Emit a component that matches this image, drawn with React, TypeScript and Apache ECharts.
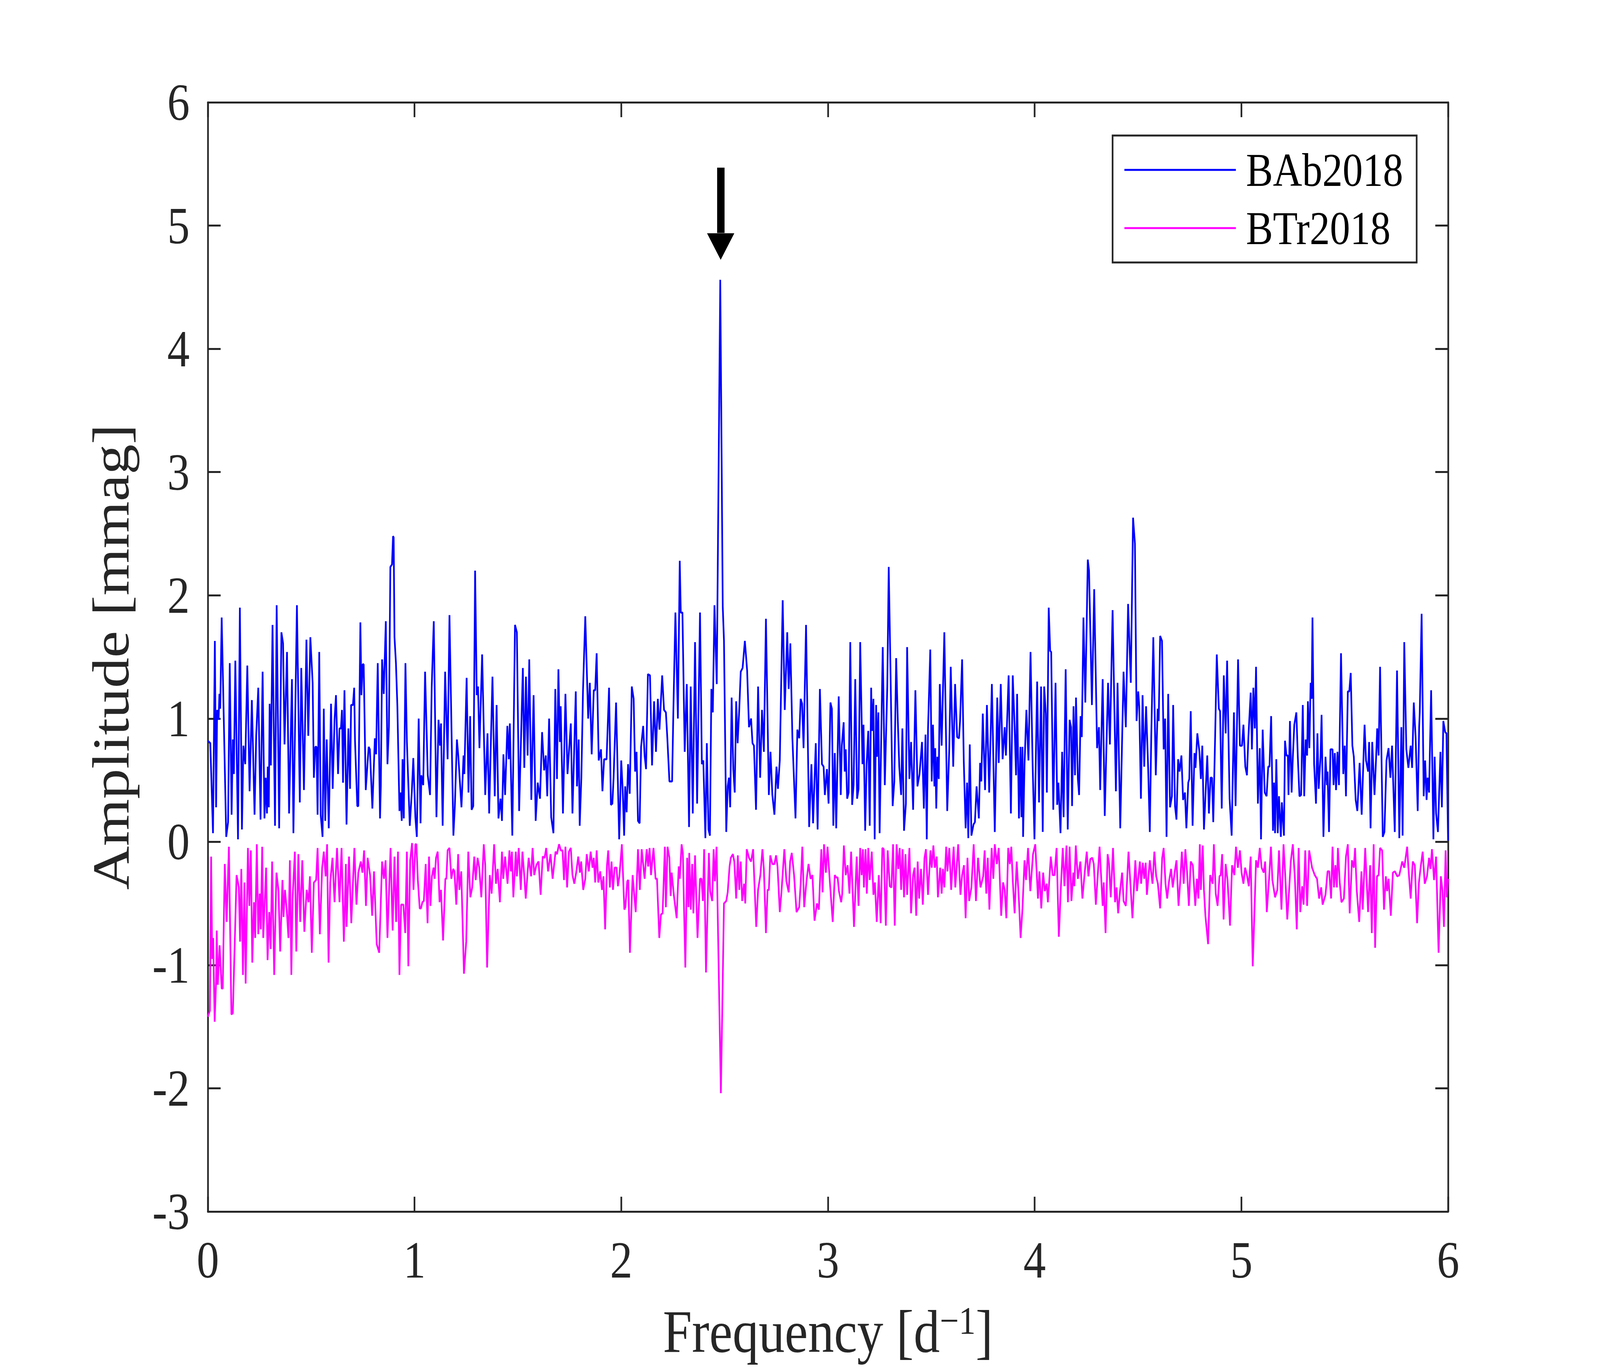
import React, { useEffect, useRef } from "react";
import * as echarts from "echarts";

const FONT = '"Liberation Serif", "Times New Roman", serif';
const AXIS_COLOR = "#262626";
const CHART_W = 4750;
const CHART_H = 3500;

const seriesNames = ["BAb2018", "BTr2018"];
const seriesColors = ["#0000FF", "#FF00FF"];
const xTicks = { min: 0, max: 6, interval: 1 };
const yTicks = { min: -3, max: 6, interval: 1 };

// arrow marking the main peak (frequency, top of shaft, base of head, tip)
const arrowFreq = 2.481;
const arrowTop = 5.47;
const arrowHeadBase = 4.94;
const arrowTip = 4.72;

// BAb2018 amplitude spectrum: [frequency d^-1, amplitude mmag]
const bAb2018: [number, number][] = [
[0,0.82],[0.012,0.80],[0.025,0.07],[0.034,1.63],[0.040,0.28],[0.045,1.07],[0.052,0.99],[0.056,1.20],[0.060,1.08],[0.067,1.82],[0.089,0.04],[0.098,0.16],[0.106,1.45],[0.115,0.22],[0.121,0.83],[0.126,0.55],[0.133,1.47],[0.146,0.02],[0.155,1.90],[0.165,0.10],[0.172,0.78],[0.181,0.63],[0.191,1.43],[0.202,0.41],[0.213,1.15],[0.226,0.22],[0.234,0.86],[0.244,1.25],[0.255,0.18],[0.265,1.38],[0.274,0.19],[0.280,0.52],[0.286,0.23],[0.290,0.61],[0.295,0.28],[0.299,1.12],[0.305,0.62],[0.313,1.76],[0.325,0.13],[0.333,1.92],[0.345,0.11],[0.356,1.70],[0.364,1.61],[0.371,0.79],[0.383,1.54],[0.393,0.23],[0.407,1.32],[0.414,0.07],[0.431,1.92],[0.445,0.32],[0.452,1.41],[0.465,0.42],[0.477,1.64],[0.486,0.86],[0.496,1.66],[0.507,1.29],[0.513,0.52],[0.520,0.77],[0.526,0.77],[0.531,0.22],[0.539,1.54],[0.546,0.22],[0.555,0.04],[0.561,1.08],[0.568,0.17],[0.575,0.83],[0.585,0.11],[0.596,1.12],[0.604,0.43],[0.613,0.99],[0.620,1.19],[0.630,0.55],[0.637,0.92],[0.644,0.92],[0.649,1.07],[0.654,0.48],[0.661,1.23],[0.671,0.14],[0.680,0.92],[0.688,0.43],[0.693,1.11],[0.702,1.11],[0.708,1.25],[0.712,0.82],[0.723,0.29],[0.728,0.29],[0.738,1.78],[0.743,1.19],[0.749,1.44],[0.754,1.44],[0.764,0.42],[0.778,0.77],[0.784,0.75],[0.796,0.27],[0.808,0.84],[0.814,0.71],[0.822,1.45],[0.833,0.19],[0.837,0.46],[0.843,1.48],[0.851,1.20],[0.861,1.79],[0.869,0.63],[0.876,0.93],[0.883,2.23],[0.891,2.25],[0.896,2.48],[0.899,2.47],[0.903,1.66],[0.910,1.45],[0.917,1.10],[0.927,0.25],[0.932,0.40],[0.938,0.17],[0.942,0.67],[0.948,0.19],[0.956,1.45],[0.963,0.81],[0.977,0.13],[0.987,0.41],[0.994,0.68],
[1.004,0.20],[1.011,0.04],[1.020,1.00],[1.029,0.15],[1.033,0.54],[1.042,0.46],[1.051,1.38],[1.064,0.54],[1.075,0.38],[1.083,1.25],[1.093,1.79],[1.106,0.20],[1.116,0.99],[1.123,0.78],[1.128,0.96],[1.136,0.13],[1.148,1.38],[1.160,0.67],[1.169,1.84],[1.188,0.05],[1.195,0.29],[1.205,0.83],[1.212,0.69],[1.227,0.28],[1.237,0.70],[1.241,0.55],[1.252,1.33],[1.261,0.40],[1.269,1.02],[1.276,0.26],[1.284,0.29],[1.293,2.20],[1.301,1.19],[1.307,1.26],[1.314,0.76],[1.327,1.52],[1.342,0.38],[1.353,0.88],[1.361,0.23],[1.377,1.34],[1.388,0.37],[1.397,1.11],[1.406,0.19],[1.416,0.35],[1.423,0.17],[1.430,0.71],[1.438,0.38],[1.449,0.94],[1.456,0.67],[1.461,0.96],[1.473,0.05],[1.486,1.76],[1.495,1.70],[1.506,0.25],[1.524,1.41],[1.531,0.60],[1.539,1.34],[1.547,0.70],[1.555,1.48],[1.565,0.34],[1.576,1.19],[1.586,0.17],[1.596,0.48],[1.607,0.35],[1.617,0.89],[1.627,0.58],[1.635,0.70],[1.642,0.37],[1.651,1.00],[1.661,0.20],[1.672,0.07],[1.681,1.24],[1.689,0.51],[1.696,1.40],[1.703,0.81],[1.707,1.10],[1.718,0.23],[1.730,1.20],[1.740,0.55],[1.756,0.96],[1.764,0.23],[1.780,1.22],[1.786,0.45],[1.794,0.83],[1.799,0.13],[1.807,0.52],[1.815,1.23],[1.826,1.83],[1.840,1.00],[1.848,1.29],[1.857,0.71],[1.867,1.23],[1.874,1.23],[1.881,1.53],[1.891,0.66],[1.902,0.75],[1.909,0.41],[1.917,0.67],[1.929,0.67],[1.941,1.25],[1.950,0.30],[1.957,0.31],[1.963,0.52],[1.975,1.13],[1.990,0.02],
[2.000,0.66],[2.007,0.42],[2.014,0.05],[2.019,0.45],[2.026,0.24],[2.033,0.63],[2.041,0.39],[2.051,1.26],[2.060,1.16],[2.067,0.57],[2.074,0.73],[2.081,0.17],[2.089,0.15],[2.096,0.77],[2.106,0.94],[2.113,0.70],[2.120,0.59],[2.129,1.36],[2.139,1.35],[2.149,0.62],[2.159,1.14],[2.168,0.73],[2.177,1.16],[2.185,0.91],[2.198,1.35],[2.207,1.07],[2.216,1.05],[2.223,0.84],[2.233,0.49],[2.246,0.49],[2.252,1.05],[2.262,1.86],[2.274,1.00],[2.283,2.28],[2.288,1.86],[2.296,1.86],[2.307,0.73],[2.317,1.28],[2.328,0.12],[2.336,1.26],[2.346,0.23],[2.357,1.62],[2.367,0.31],[2.381,1.86],[2.390,0.63],[2.397,0.66],[2.407,0.03],[2.414,0.80],[2.422,0.10],[2.429,0.05],[2.436,1.24],[2.443,1.05],[2.451,1.92],[2.462,1.28],[2.479,4.56],[2.491,1.91],[2.497,1.63],[2.508,0.08],[2.515,0.45],[2.521,0.52],[2.527,0.28],[2.534,1.17],[2.542,0.59],[2.549,0.40],[2.556,1.14],[2.563,0.80],[2.571,1.08],[2.578,1.38],[2.587,1.41],[2.598,1.63],[2.609,1.39],[2.618,0.93],[2.628,1.00],[2.635,0.80],[2.642,0.78],[2.652,0.26],[2.662,1.26],[2.672,0.52],[2.681,1.07],[2.690,0.73],[2.700,1.81],[2.714,0.38],[2.722,0.73],[2.731,0.38],[2.741,0.22],[2.751,0.61],[2.758,0.43],[2.767,0.66],[2.781,1.96],[2.791,1.07],[2.803,1.70],[2.810,1.24],[2.818,1.61],[2.828,0.84],[2.843,0.19],[2.852,0.91],[2.861,0.84],[2.868,1.16],[2.875,1.12],[2.882,0.76],[2.894,1.76],[2.909,0.12],[2.920,0.63],[2.928,0.15],[2.941,0.80],[2.950,0.10],[2.961,1.24],[2.971,0.63],[2.979,0.61],[2.985,0.38],[2.995,0.59],[3.003,0.31],
[3.012,1.13],[3.019,1.08],[3.026,0.13],[3.033,0.72],[3.040,0.11],[3.052,1.18],[3.062,0.38],[3.067,0.78],[3.076,0.97],[3.081,0.57],[3.086,0.75],[3.093,0.35],[3.100,0.40],[3.108,1.62],[3.117,0.30],[3.124,0.46],[3.132,1.32],[3.141,0.35],[3.148,0.43],[3.156,1.62],[3.167,0.63],[3.172,0.95],[3.180,0.09],[3.187,0.63],[3.195,0.90],[3.202,0.13],[3.209,1.25],[3.213,0.90],[3.220,1.16],[3.226,0.02],[3.233,1.11],[3.237,0.69],[3.244,1.05],[3.250,0.07],[3.265,1.58],[3.275,0.46],[3.287,1.26],[3.294,2.23],[3.303,1.34],[3.313,0.29],[3.321,0.49],[3.330,1.49],[3.338,0.98],[3.345,0.61],[3.354,0.38],[3.360,0.92],[3.368,0.09],[3.377,0.31],[3.383,1.58],[3.394,0.51],[3.402,0.81],[3.412,0.26],[3.423,1.23],[3.433,0.45],[3.443,0.55],[3.455,0.81],[3.464,0.27],[3.472,0.87],[3.478,0.02],[3.484,0.91],[3.495,1.56],[3.502,0.49],[3.508,0.95],[3.515,0.45],[3.519,0.76],[3.524,0.27],[3.529,0.69],[3.536,0.51],[3.541,1.28],[3.550,0.78],[3.563,1.70],[3.577,0.25],[3.587,0.76],[3.594,1.42],[3.606,0.61],[3.615,1.28],[3.625,0.85],[3.634,0.84],[3.639,0.98],[3.649,1.48],[3.657,0.66],[3.666,0.11],[3.673,0.48],[3.679,0.03],[3.686,0.79],[3.694,0.05],[3.704,0.14],[3.711,0.16],[3.719,0.45],[3.730,0.19],[3.736,0.64],[3.742,0.49],[3.749,1.04],[3.760,0.42],[3.769,1.11],[3.780,0.40],[3.793,1.28],[3.807,0.08],[3.819,1.17],[3.826,0.64],[3.836,1.28],[3.845,0.67],[3.855,0.93],[3.861,0.70],[3.874,1.35],[3.885,0.23],[3.894,1.35],[3.903,0.93],[3.910,0.54],[3.915,1.20],[3.924,0.19],[3.931,0.77],[3.936,0.20],[3.941,0.77],[3.944,0.04],[3.951,0.63],[3.960,1.07],[3.970,0.66],[3.980,1.54],[3.990,0.64],[3.999,0.02],[4.012,1.30],[4.021,0.32],[4.031,1.26],[4.039,0.08],[4.046,1.26],[4.054,1.04],[4.059,0.40],[4.068,1.90],[4.075,1.55],
[4.080,1.54],[4.090,0.26],[4.101,1.29],[4.109,0.30],[4.115,0.48],[4.125,0.07],[4.133,0.73],[4.140,0.20],[4.150,1.40],[4.160,0.10],[4.169,0.99],[4.176,0.93],[4.181,0.29],[4.188,1.10],[4.195,0.54],[4.200,1.17],[4.209,0.51],[4.215,0.38],[4.222,1.02],[4.228,0.85],[4.236,1.82],[4.245,1.13],[4.257,2.29],[4.263,2.20],[4.277,1.11],[4.288,2.05],[4.302,0.76],[4.311,0.93],[4.317,0.42],[4.329,1.32],[4.339,0.21],[4.346,0.69],[4.355,1.29],[4.364,0.79],[4.377,1.88],[4.393,0.41],[4.401,1.29],[4.414,0.11],[4.430,1.38],[4.441,0.93],[4.452,1.93],[4.465,1.29],[4.476,2.63],[4.485,2.42],[4.493,0.98],[4.501,1.22],[4.506,1.10],[4.514,0.35],[4.522,1.19],[4.530,0.61],[4.539,1.10],[4.549,0.60],[4.557,0.08],[4.564,0.85],[4.574,1.66],[4.586,0.54],[4.595,1.08],[4.600,0.98],[4.607,1.67],[4.616,1.63],[4.624,0.75],[4.631,1.00],[4.638,0.04],[4.646,1.20],[4.655,0.28],[4.664,0.37],[4.670,1.11],[4.679,0.29],[4.686,0.18],[4.694,0.67],[4.701,0.57],[4.710,0.70],[4.718,0.34],[4.727,0.40],[4.734,0.11],[4.743,0.48],[4.748,0.51],[4.755,1.06],[4.764,0.13],[4.773,0.72],[4.778,0.60],[4.787,0.88],[4.797,0.73],[4.804,0.51],[4.811,0.78],[4.819,0.10],[4.835,0.70],[4.843,0.23],[4.851,0.52],[4.858,0.52],[4.864,0.16],[4.873,0.85],[4.881,1.52],[4.891,1.08],[4.897,1.06],[4.905,0.27],[4.915,1.35],[4.924,0.88],[4.931,1.47],[4.943,0.35],[4.953,0.05],[4.964,1.05],[4.972,0.29],[4.984,1.48],[4.993,0.78],[5.003,0.78],[5.010,0.95],[5.019,0.61],[5.027,0.54],[5.034,0.85],[5.045,1.21],[5.051,0.75],[5.058,1.25],[5.065,0.92],[5.071,1.42],[5.080,0.31],
[5.089,0.76],[5.095,0.02],[5.103,0.91],[5.113,0.40],[5.122,0.37],[5.130,0.61],[5.136,0.61],[5.144,1.02],[5.153,0.09],[5.158,0.48],[5.163,0.07],[5.169,0.67],[5.176,0.07],[5.182,0.37],[5.191,0.04],[5.196,0.32],[5.206,0.05],[5.211,0.82],[5.218,0.70],[5.225,0.70],[5.228,0.38],[5.235,0.98],[5.243,0.40],[5.249,0.69],[5.256,0.95],[5.266,1.05],[5.273,0.69],[5.281,0.37],[5.289,0.38],[5.297,1.11],[5.304,0.37],[5.311,0.83],[5.318,0.70],[5.322,1.14],[5.329,0.76],[5.335,1.29],[5.340,1.16],[5.344,1.82],[5.352,0.63],[5.361,0.31],[5.368,0.88],[5.374,0.43],[5.383,0.69],[5.388,1.03],[5.397,0.04],[5.407,0.69],[5.414,0.46],[5.417,0.57],[5.424,0.08],[5.431,0.75],[5.441,0.75],[5.446,0.46],[5.452,0.72],[5.458,0.42],[5.465,0.73],[5.472,0.46],[5.482,1.53],[5.493,0.55],[5.500,0.78],[5.506,0.37],[5.515,1.22],[5.522,1.22],[5.529,1.37],[5.537,0.78],[5.544,0.69],[5.553,0.34],[5.561,0.25],[5.572,0.64],[5.582,0.22],[5.596,0.95],[5.603,0.66],[5.613,0.57],[5.618,0.81],[5.625,0.11],[5.633,0.81],[5.644,0.38],[5.652,0.69],[5.657,0.92],[5.664,0.70],[5.671,1.42],[5.684,0.04],[5.692,0.08],[5.702,0.66],[5.712,0.76],[5.721,0.52],[5.729,0.78],[5.742,0.08],[5.753,1.39],[5.764,0.03],[5.774,0.93],[5.780,0.05],[5.788,1.62],[5.798,0.75],[5.808,0.60],[5.819,0.78],[5.826,0.60],[5.834,1.13],[5.843,0.85],[5.853,0.25],[5.860,0.93],[5.863,1.05],[5.872,1.85],[5.882,0.37],[5.889,0.66],[5.896,0.34],[5.901,0.52],[5.908,0.40],[5.918,1.23],[5.929,0.02],[5.935,0.69],[5.942,0.23],[5.951,0.08],[5.963,0.73],[5.970,0.28],[5.977,0.98],[5.986,0.89],[5.992,0.88],[6.000,0.01]
];

// BTr2018 spectrum (plotted as negative amplitude): [frequency d^-1, amplitude mmag]
const bTr2018: [number, number][] = [
[0,-1.42],[0.010,-1.37],[0.016,-0.12],[0.021,-0.95],[0.026,-0.78],[0.033,-1.46],[0.040,-1.13],[0.043,-0.72],[0.048,-1.16],[0.057,-0.84],[0.067,-1.19],[0.072,-1.19],[0.082,-0.18],[0.091,-0.65],[0.102,-0.04],[0.114,-1.40],[0.121,-1.39],[0.139,-0.27],[0.150,-0.37],[0.156,-0.81],[0.162,-0.22],[0.170,-1.08],[0.177,-0.33],[0.183,-1.15],[0.194,-0.05],[0.201,-0.52],[0.208,-0.07],[0.215,-0.98],[0.223,-0.49],[0.229,-0.78],[0.237,-0.02],[0.244,-0.75],[0.251,-0.42],[0.256,-0.71],[0.263,-0.04],[0.268,-0.78],[0.282,-0.21],[0.289,-0.96],[0.297,-0.57],[0.304,-0.87],[0.311,-0.16],[0.321,-1.08],[0.332,-0.25],[0.342,-0.40],[0.350,-0.89],[0.361,-0.31],[0.366,-0.61],[0.373,-0.39],[0.382,-0.56],[0.390,-0.78],[0.397,-0.15],[0.404,-1.08],[0.410,-0.46],[0.421,-0.08],[0.428,-0.89],[0.438,-0.10],[0.447,-0.65],[0.457,-0.15],[0.467,-0.73],[0.478,-0.39],[0.487,-0.49],[0.494,-0.28],[0.503,-0.90],[0.513,-0.33],[0.524,-0.31],[0.531,-0.05],[0.542,-0.75],[0.553,-0.21],[0.561,-0.08],[0.570,-0.28],[0.577,-0.02],[0.584,-0.98],[0.592,-0.33],[0.603,-0.13],[0.613,-0.49],[0.625,-0.05],[0.637,-0.49],[0.647,-0.05],[0.658,-0.81],[0.668,-0.18],[0.671,-0.69],[0.683,-0.12],[0.694,-0.66],[0.709,-0.05],[0.719,-0.51],[0.728,-0.25],[0.740,-0.16],[0.748,-0.25],[0.756,-0.07],[0.765,-0.52],[0.773,-0.13],[0.785,-0.27],[0.795,-0.60],[0.804,-0.24],[0.817,-0.83],[0.829,-0.90],[0.843,-0.16],[0.852,-0.30],[0.860,-0.15],[0.869,-0.78],[0.884,-0.05],[0.894,-0.72],[0.903,-0.12],[0.911,-0.65],[0.920,-0.08],[0.927,-1.08],[0.935,-0.51],[0.946,-0.51],[0.955,-0.74],[0.963,-0.08],[0.970,-1.01],[0.979,-0.15],[0.988,-0.01],[0.995,-0.39],
[1.004,-0.02],[1.009,-0.02],[1.016,-0.31],[1.025,-0.54],[1.031,-0.54],[1.038,-0.49],[1.045,-0.48],[1.054,-0.18],[1.063,-0.66],[1.070,-0.12],[1.077,-0.52],[1.084,-0.28],[1.092,-0.21],[1.097,-0.30],[1.104,-0.13],[1.112,-0.08],[1.121,-0.49],[1.128,-0.39],[1.138,-0.80],[1.149,-0.30],[1.154,-0.30],[1.160,-0.07],[1.169,-0.05],[1.178,-0.30],[1.187,-0.22],[1.193,-0.24],[1.202,-0.51],[1.211,-0.10],[1.217,-0.39],[1.226,-0.24],[1.239,-1.07],[1.250,-0.81],[1.260,-0.08],[1.270,-0.45],[1.279,-0.37],[1.289,-0.12],[1.296,-0.31],[1.305,-0.13],[1.313,-0.21],[1.323,-0.45],[1.335,-0.02],[1.342,-0.19],[1.351,-1.02],[1.364,-0.27],[1.373,-0.42],[1.385,-0.02],[1.394,-0.34],[1.402,-0.22],[1.413,-0.49],[1.423,-0.08],[1.429,-0.30],[1.438,-0.12],[1.450,-0.34],[1.459,-0.07],[1.466,-0.24],[1.471,-0.08],[1.478,-0.45],[1.490,-0.08],[1.495,-0.28],[1.504,-0.05],[1.514,-0.39],[1.522,-0.08],[1.531,-0.28],[1.538,-0.46],[1.552,-0.13],[1.564,-0.28],[1.571,-0.05],[1.579,-0.27],[1.589,-0.19],[1.600,-0.16],[1.610,-0.43],[1.620,-0.12],[1.629,-0.13],[1.637,-0.05],[1.646,-0.24],[1.658,-0.10],[1.668,-0.30],[1.682,-0.08],[1.689,-0.10],[1.699,-0.02],[1.708,-0.07],[1.716,-0.07],[1.723,-0.31],[1.730,-0.04],[1.738,-0.37],[1.747,-0.08],[1.756,-0.05],[1.764,-0.27],[1.773,-0.34],[1.782,-0.25],[1.792,-0.12],[1.800,-0.25],[1.806,-0.16],[1.816,-0.39],[1.826,-0.30],[1.833,-0.10],[1.843,-0.24],[1.852,-0.08],[1.861,-0.21],[1.867,-0.13],[1.874,-0.33],[1.881,-0.07],[1.889,-0.33],[1.898,-0.24],[1.907,-0.39],[1.914,-0.28],[1.922,-0.71],[1.931,-0.19],[1.937,-0.07],[1.945,-0.37],[1.953,-0.16],[1.960,-0.39],[1.968,-0.21],[1.977,-0.21],[1.984,-0.36],[1.991,-0.28],[2.003,-0.02],[2.015,-0.55],
[2.020,-0.53],[2.029,-0.32],[2.034,-0.31],[2.042,-0.90],[2.055,-0.27],[2.062,-0.41],[2.070,-0.57],[2.081,-0.06],[2.090,-0.39],[2.099,-0.06],[2.113,-0.30],[2.123,-0.06],[2.130,-0.20],[2.137,-0.05],[2.144,-0.27],[2.156,-0.05],[2.166,-0.30],[2.173,-0.30],[2.184,-0.78],[2.192,-0.59],[2.200,-0.58],[2.211,-0.04],[2.216,-0.53],[2.224,-0.04],[2.233,-0.13],[2.239,-0.44],[2.244,-0.25],[2.255,-0.44],[2.268,-0.62],[2.278,-0.20],[2.283,-0.30],[2.292,-0.02],[2.298,-0.09],[2.310,-1.02],[2.319,-0.13],[2.325,-0.53],[2.329,-0.09],[2.336,-0.55],[2.343,-0.18],[2.349,-0.58],[2.357,-0.11],[2.369,-0.78],[2.381,-0.30],[2.388,-0.30],[2.395,-0.48],[2.401,-0.06],[2.410,-1.06],[2.424,-0.09],[2.430,-0.40],[2.440,-0.48],[2.447,-0.06],[2.453,-0.32],[2.461,-0.04],[2.482,-2.04],[2.497,-0.50],[2.508,-0.48],[2.515,-0.41],[2.524,-0.20],[2.530,-0.13],[2.540,-0.10],[2.547,-0.16],[2.556,-0.46],[2.564,-0.11],[2.571,-0.39],[2.578,-0.16],[2.585,-0.48],[2.594,-0.34],[2.600,-0.50],[2.607,-0.06],[2.618,-0.13],[2.628,-0.16],[2.638,-0.06],[2.644,-0.32],[2.653,-0.69],[2.662,-0.39],[2.673,-0.27],[2.683,-0.06],[2.690,-0.22],[2.700,-0.74],[2.708,-0.39],[2.714,-0.39],[2.721,-0.11],[2.731,-0.18],[2.741,-0.18],[2.749,-0.11],[2.756,-0.20],[2.767,-0.57],[2.775,-0.41],[2.789,-0.06],[2.799,-0.32],[2.810,-0.41],[2.817,-0.16],[2.825,-0.09],[2.836,-0.27],[2.848,-0.57],[2.861,-0.53],[2.868,-0.34],[2.876,-0.04],[2.885,-0.53],[2.896,-0.32],[2.906,-0.18],[2.916,-0.30],[2.925,-0.27],[2.935,-0.64],[2.947,-0.50],[2.956,-0.55],[2.968,-0.06],[2.974,-0.41],[2.981,-0.02],[2.990,-0.25],[2.998,-0.04],[3.009,-0.32],
[3.023,-0.65],[3.033,-0.27],[3.040,-0.29],[3.047,-0.29],[3.053,-0.40],[3.064,-0.49],[3.069,-0.42],[3.077,-0.03],[3.086,-0.27],[3.095,-0.19],[3.104,-0.42],[3.112,-0.08],[3.126,-0.69],[3.139,-0.12],[3.148,-0.52],[3.156,-0.05],[3.163,-0.27],[3.169,-0.06],[3.174,-0.37],[3.182,-0.06],[3.188,-0.42],[3.195,-0.05],[3.202,-0.31],[3.212,-0.08],[3.220,-0.43],[3.227,-0.33],[3.236,-0.65],[3.246,-0.27],[3.255,-0.66],[3.263,-0.05],[3.270,-0.06],[3.280,-0.68],[3.289,-0.07],[3.299,-0.36],[3.307,-0.37],[3.315,-0.02],[3.323,-0.68],[3.332,-0.02],[3.340,-0.22],[3.347,-0.05],[3.354,-0.39],[3.361,-0.06],[3.368,-0.45],[3.375,-0.10],[3.383,-0.43],[3.394,-0.05],[3.402,-0.58],[3.412,-0.27],[3.419,-0.21],[3.427,-0.60],[3.434,-0.16],[3.441,-0.46],[3.450,-0.22],[3.459,-0.51],[3.467,-0.13],[3.474,-0.06],[3.484,-0.43],[3.496,-0.07],[3.502,-0.21],[3.510,-0.03],[3.517,-0.21],[3.526,-0.12],[3.532,-0.45],[3.543,-0.21],[3.550,-0.42],[3.556,-0.22],[3.563,-0.37],[3.572,-0.04],[3.578,-0.24],[3.587,-0.05],[3.596,-0.39],[3.608,-0.04],[3.616,-0.37],[3.630,-0.02],[3.641,-0.43],[3.649,-0.27],[3.658,-0.19],[3.666,-0.62],[3.675,-0.13],[3.683,-0.48],[3.694,-0.37],[3.705,-0.02],[3.716,-0.48],[3.726,-0.13],[3.738,-0.37],[3.751,-0.28],[3.758,-0.07],[3.766,-0.42],[3.773,-0.13],[3.781,-0.55],[3.792,-0.05],[3.800,-0.30],[3.807,-0.02],[3.817,-0.18],[3.826,-0.05],[3.838,-0.60],[3.847,-0.33],[3.855,-0.39],[3.863,-0.62],[3.872,-0.05],[3.880,-0.18],[3.887,-0.04],[3.894,-0.31],[3.903,-0.58],[3.913,-0.16],[3.924,-0.48],[3.932,-0.78],[3.941,-0.54],[3.951,-0.15],[3.958,-0.31],[3.968,-0.05],[3.979,-0.40],[3.992,-0.10],[4.003,-0.02],[4.016,-0.46],
[4.023,-0.24],[4.032,-0.54],[4.041,-0.25],[4.049,-0.40],[4.058,-0.34],[4.064,-0.49],[4.078,-0.12],[4.087,-0.27],[4.096,-0.27],[4.106,-0.05],[4.117,-0.77],[4.126,-0.40],[4.136,-0.05],[4.144,-0.36],[4.154,-0.03],[4.161,-0.49],[4.169,-0.04],[4.178,-0.48],[4.187,-0.25],[4.192,-0.36],[4.199,-0.03],[4.209,-0.30],[4.221,-0.16],[4.231,-0.46],[4.242,-0.25],[4.252,-0.08],[4.260,-0.28],[4.269,-0.14],[4.279,-0.13],[4.286,-0.18],[4.296,-0.51],[4.314,-0.04],[4.329,-0.52],[4.334,-0.33],[4.343,-0.74],[4.353,-0.10],[4.360,-0.18],[4.368,-0.45],[4.379,-0.05],[4.389,-0.49],[4.396,-0.37],[4.404,-0.58],[4.413,-0.40],[4.423,-0.25],[4.430,-0.48],[4.441,-0.52],[4.454,-0.08],[4.473,-0.62],[4.487,-0.15],[4.495,-0.40],[4.509,-0.16],[4.515,-0.34],[4.523,-0.17],[4.530,-0.30],[4.537,-0.17],[4.543,-0.43],[4.557,-0.15],[4.570,-0.34],[4.579,-0.08],[4.588,-0.28],[4.596,-0.34],[4.607,-0.54],[4.617,-0.13],[4.624,-0.05],[4.633,-0.34],[4.641,-0.46],[4.650,-0.32],[4.660,-0.22],[4.668,-0.37],[4.677,-0.25],[4.686,-0.15],[4.696,-0.52],[4.705,-0.30],[4.712,-0.08],[4.721,-0.34],[4.729,-0.06],[4.737,-0.24],[4.746,-0.52],[4.755,-0.16],[4.765,-0.19],[4.777,-0.52],[4.785,-0.30],[4.792,-0.46],[4.799,-0.02],[4.804,-0.39],[4.813,-0.03],[4.819,-0.39],[4.826,-0.60],[4.839,-0.83],[4.849,-0.27],[4.861,-0.34],[4.867,-0.02],[4.876,-0.42],[4.885,-0.52],[4.894,-0.28],[4.900,-0.27],[4.907,-0.10],[4.914,-0.63],[4.924,-0.18],[4.933,-0.31],[4.945,-0.68],[4.955,-0.19],[4.966,-0.27],[4.974,-0.04],[4.983,-0.21],[4.993,-0.07],[5.001,-0.25],[5.010,-0.34],[5.018,-0.21],[5.027,-0.27],[5.036,-0.36],[5.045,-0.12],[5.055,-1.01],
[5.071,-0.15],[5.080,-0.21],[5.089,-0.05],[5.098,-0.21],[5.108,-0.25],[5.115,-0.16],[5.123,-0.57],[5.134,-0.30],[5.143,-0.04],[5.150,-0.31],[5.163,-0.45],[5.174,-0.39],[5.182,-0.07],[5.194,-0.55],[5.204,-0.02],[5.213,-0.30],[5.222,-0.63],[5.231,-0.39],[5.239,-0.16],[5.249,-0.02],[5.259,-0.30],[5.268,-0.71],[5.277,-0.05],[5.285,-0.57],[5.294,-0.36],[5.301,-0.51],[5.309,-0.07],[5.318,-0.52],[5.328,-0.07],[5.342,-0.21],[5.355,-0.27],[5.366,-0.30],[5.376,-0.46],[5.386,-0.37],[5.393,-0.51],[5.407,-0.43],[5.417,-0.24],[5.425,-0.24],[5.434,-0.46],[5.441,-0.04],[5.448,-0.37],[5.455,-0.19],[5.462,-0.37],[5.467,-0.05],[5.476,-0.33],[5.484,-0.49],[5.496,-0.46],[5.506,-0.12],[5.515,-0.02],[5.524,-0.58],[5.535,-0.15],[5.544,-0.21],[5.550,-0.05],[5.558,-0.39],[5.570,-0.65],[5.581,-0.24],[5.587,-0.55],[5.599,-0.05],[5.613,-0.57],[5.623,-0.19],[5.631,-0.74],[5.640,-0.02],[5.647,-0.86],[5.656,-0.28],[5.664,-0.27],[5.671,-0.05],[5.681,-0.07],[5.690,-0.55],[5.699,-0.28],[5.705,-0.40],[5.712,-0.30],[5.723,-0.60],[5.733,-0.25],[5.743,-0.24],[5.754,-0.28],[5.764,-0.27],[5.778,-0.16],[5.788,-0.21],[5.802,-0.04],[5.808,-0.21],[5.819,-0.46],[5.829,-0.16],[5.839,-0.19],[5.850,-0.66],[5.859,-0.33],[5.867,-0.21],[5.877,-0.08],[5.887,-0.34],[5.898,-0.28],[5.908,-0.13],[5.915,-0.22],[5.922,-0.06],[5.932,-0.31],[5.942,-0.12],[5.954,-0.90],[5.965,-0.28],[5.973,-0.40],[5.980,-0.69],[5.988,-0.07],[5.994,-0.45],[6.000,-0.30]
];

const axisLine = { show: true, onZero: false, lineStyle: { color: AXIS_COLOR, width: 5 } };
const axisTick = { show: true, inside: true, length: 38, lineStyle: { color: AXIS_COLOR, width: 5 } };
const tickLabel = { fontFamily: FONT, fontSize: 133, color: AXIS_COLOR };

function buildOption() {
  return {
    animation: false,
    backgroundColor: "#ffffff",
    grid: { left: 617, top: 262, width: 3682, height: 2840, containLabel: false },
    legend: {
      orient: "vertical",
      left: 3303,
      top: 347,
      padding: [28, 40, 28, 35],
      itemWidth: 331,
      itemHeight: 5,
      itemGap: 29,
      icon: "rect",
      selectedMode: false,
      borderColor: AXIS_COLOR,
      borderWidth: 5,
      backgroundColor: "#ffffff",
      data: seriesNames,
      textStyle: { fontFamily: FONT, fontSize: 120, lineHeight: 120, color: "#000000", padding: [0, 0, 0, 25] },
    },
    xAxis: [
      {
        type: "value",
        position: "bottom",
        ...xTicks,
        axisLine,
        axisTick,
        axisLabel: { ...tickLabel, margin: 58 },
        splitLine: { show: false },
        name: "{a|Frequency [d}{s|\u22121}{a|]}",
        nameLocation: "middle",
        nameGap: 229,
        nameTextStyle: {
          fontFamily: FONT,
          fontSize: 155,
          color: AXIS_COLOR,
          rich: {
            a: { fontFamily: FONT, fontSize: 155, lineHeight: 155, color: AXIS_COLOR },
            s: { fontFamily: FONT, fontSize: 100, lineHeight: 70, verticalAlign: "top", color: AXIS_COLOR },
          },
        },
      },
      {
        type: "value",
        position: "top",
        ...xTicks,
        axisLine,
        axisTick,
        axisLabel: { show: false },
        splitLine: { show: false },
      },
    ],
    yAxis: [
      {
        type: "value",
        position: "left",
        ...yTicks,
        axisLine,
        axisTick,
        axisLabel: { ...tickLabel, margin: 54 },
        splitLine: { show: false },
        name: "Amplitude [mmag]",
        nameLocation: "middle",
        nameGap: 211,
        nameTextStyle: { fontFamily: FONT, fontSize: 155, color: AXIS_COLOR },
      },
      {
        type: "value",
        position: "right",
        ...yTicks,
        axisLine,
        axisTick,
        axisLabel: { show: false },
        splitLine: { show: false },
      },
    ],
    series: [
      {
        name: seriesNames[0],
        type: "line",
        xAxisIndex: 0,
        yAxisIndex: 0,
        data: bAb2018,
        symbol: "none",
        silent: true,
        color: seriesColors[0],
        lineStyle: { color: seriesColors[0], width: 5 },
        markLine: {
          silent: true,
          symbol: ["none", "none"],
          label: { show: false },
          lineStyle: { color: "#000000", width: 22, type: "solid", cap: "butt" },
          data: [[{ coord: [arrowFreq, arrowTop] }, { coord: [arrowFreq, arrowHeadBase] }]],
        },
        markPoint: {
          silent: true,
          symbol: "triangle",
          symbolRotate: 180,
          symbolSize: [81, 68],
          itemStyle: { color: "#000000" },
          label: { show: false },
          data: [{ coord: [arrowFreq, (arrowHeadBase + arrowTip) / 2] }],
        },
      },
      {
        name: seriesNames[1],
        type: "line",
        xAxisIndex: 0,
        yAxisIndex: 0,
        data: bTr2018,
        symbol: "none",
        silent: true,
        color: seriesColors[1],
        lineStyle: { color: seriesColors[1], width: 5 },
      },
    ],
  };
}

export default function App() {
  const ref = useRef<HTMLDivElement>(null);
  useEffect(() => {
    document.documentElement.style.overflow = "hidden";
    document.body.style.margin = "0";
    document.body.style.overflow = "hidden";
    const el = ref.current;
    if (!el) return;
    // fit the full-size figure into the visible viewport
    const vw = window.innerWidth || CHART_W;
    const vh = window.innerHeight || CHART_H;
    const sx = Math.min(1, vw / CHART_W);
    const sy = Math.min(1, vh / CHART_H);
    el.style.transformOrigin = "0 0";
    el.style.transform = `scale(${sx}, ${sy})`;
    const chart = echarts.init(el, null, { renderer: "svg" });
    chart.setOption(buildOption() as any);
    return () => {
      chart.dispose();
    };
  }, []);
  return (
    <div style={{ width: "100vw", height: "100vh", overflow: "hidden", background: "#ffffff" }}>
      <div ref={ref} style={{ width: CHART_W, height: CHART_H, background: "#ffffff" }} />
    </div>
  );
}
